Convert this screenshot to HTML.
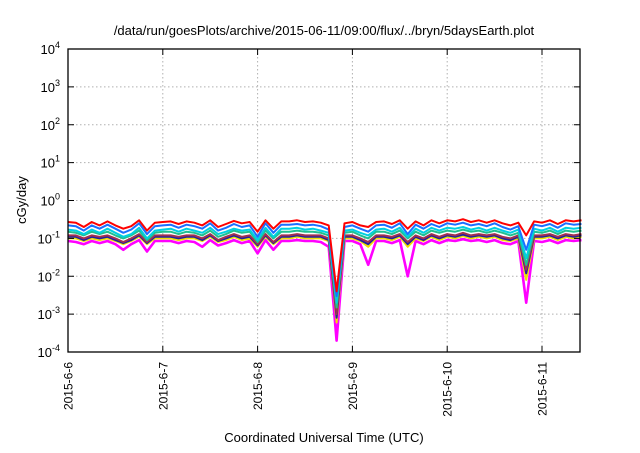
<!DOCTYPE html>
<html><head><meta charset="utf-8"><style>
body{margin:0;background:#fff;}
svg{font-family:"Liberation Sans",sans-serif;}
</style></head><body>
<svg id="chart" width="640" height="448" viewBox="0 0 640 448" xmlns="http://www.w3.org/2000/svg">
<rect width="640" height="448" fill="#fff"/>
<text x="324" y="35" text-anchor="middle" font-size="13">/data/run/goesPlots/archive/2015-06-11/09:00/flux/../bryn/5daysEarth.plot</text>
<text transform="translate(26,200) rotate(-90)" text-anchor="middle" font-size="13">cGy/day</text>
<text x="324" y="442" text-anchor="middle" font-size="13">Coordinated Universal Time (UTC)</text>
<g id="grid"></g><g id="series"></g><g id="axes"></g>
</svg>
<script>
const dayLabels=["2015-6-6","2015-6-7","2015-6-8","2015-6-9","2015-6-10","2015-6-11"];
const yExps=[-4,-3,-2,-1,0,1,2,3,4];
const stepHours=2;
const seriesColors=["#ff0000","#1a6fff","#00d0e0","#20c090","#a03050","#2020a0","#f0e000","#ff00ff"];
const sRed=[0.27,0.26,0.20,0.27,0.22,0.28,0.22,0.18,0.21,0.30,0.16,0.26,0.27,0.28,0.24,0.28,0.26,0.22,0.30,0.20,0.24,0.29,0.25,0.27,0.15,0.30,0.18,0.28,0.28,0.30,0.27,0.28,0.26,0.22,0.004,0.25,0.27,0.22,0.20,0.27,0.28,0.24,0.30,0.18,0.28,0.22,0.30,0.25,0.30,0.28,0.32,0.27,0.30,0.26,0.30,0.25,0.22,0.26,0.12,0.28,0.26,0.30,0.24,0.30,0.28,0.30];
const sBlue=[0.22,0.21,0.16,0.22,0.18,0.23,0.18,0.14,0.17,0.25,0.13,0.21,0.22,0.23,0.19,0.23,0.21,0.18,0.25,0.16,0.19,0.24,0.20,0.22,0.11,0.25,0.14,0.23,0.23,0.24,0.22,0.23,0.21,0.17,0.003,0.20,0.22,0.18,0.15,0.22,0.23,0.19,0.25,0.13,0.23,0.18,0.24,0.20,0.25,0.23,0.26,0.22,0.24,0.21,0.25,0.20,0.17,0.21,0.05,0.23,0.21,0.24,0.19,0.25,0.23,0.24];
const sCyan=[0.17,0.16,0.13,0.17,0.14,0.18,0.14,0.11,0.13,0.19,0.10,0.16,0.17,0.18,0.15,0.18,0.16,0.14,0.19,0.13,0.15,0.18,0.16,0.17,0.09,0.19,0.11,0.18,0.18,0.19,0.17,0.18,0.16,0.14,0.002,0.16,0.17,0.14,0.12,0.17,0.18,0.15,0.19,0.11,0.18,0.14,0.19,0.16,0.19,0.18,0.20,0.17,0.19,0.16,0.19,0.16,0.14,0.17,0.03,0.18,0.16,0.19,0.15,0.19,0.18,0.19];
const sTeal=[0.15,0.14,0.12,0.15,0.13,0.15,0.12,0.10,0.12,0.16,0.09,0.14,0.15,0.15,0.13,0.15,0.14,0.12,0.16,0.11,0.13,0.16,0.14,0.15,0.08,0.16,0.10,0.15,0.15,0.16,0.15,0.15,0.14,0.12,0.0015,0.14,0.15,0.12,0.10,0.15,0.15,0.13,0.16,0.10,0.15,0.12,0.16,0.14,0.16,0.15,0.17,0.15,0.16,0.14,0.16,0.14,0.12,0.14,0.02,0.15,0.14,0.16,0.13,0.16,0.15,0.16];
const sBrown=[0.12,0.12,0.10,0.12,0.11,0.12,0.10,0.08,0.10,0.13,0.08,0.12,0.12,0.12,0.11,0.12,0.12,0.10,0.13,0.09,0.11,0.13,0.11,0.12,0.07,0.13,0.08,0.12,0.12,0.13,0.12,0.12,0.12,0.10,0.001,0.12,0.12,0.10,0.08,0.12,0.12,0.11,0.13,0.08,0.12,0.10,0.13,0.11,0.13,0.12,0.14,0.12,0.13,0.12,0.13,0.11,0.10,0.12,0.015,0.12,0.12,0.13,0.11,0.13,0.12,0.13];
const sNavy=[0.11,0.11,0.09,0.11,0.10,0.11,0.09,0.075,0.09,0.12,0.075,0.11,0.11,0.11,0.10,0.11,0.11,0.09,0.12,0.085,0.10,0.12,0.10,0.11,0.065,0.12,0.075,0.11,0.11,0.12,0.11,0.11,0.11,0.09,0.0008,0.11,0.11,0.09,0.07,0.11,0.11,0.10,0.12,0.07,0.11,0.09,0.12,0.10,0.12,0.11,0.125,0.11,0.12,0.11,0.12,0.10,0.09,0.11,0.012,0.11,0.11,0.12,0.10,0.12,0.11,0.12];
const sYellow=[0.10,0.10,0.085,0.10,0.09,0.10,0.085,0.07,0.085,0.11,0.07,0.10,0.10,0.10,0.09,0.10,0.10,0.085,0.11,0.08,0.09,0.11,0.09,0.10,0.06,0.11,0.07,0.10,0.10,0.11,0.10,0.10,0.10,0.085,0.0006,0.10,0.10,0.085,0.06,0.10,0.10,0.09,0.11,0.06,0.10,0.085,0.11,0.09,0.11,0.10,0.115,0.10,0.11,0.10,0.11,0.09,0.085,0.10,0.008,0.10,0.10,0.11,0.09,0.11,0.10,0.11];
const sMagenta=[0.085,0.08,0.07,0.085,0.075,0.085,0.07,0.05,0.07,0.09,0.045,0.085,0.085,0.085,0.075,0.085,0.08,0.06,0.09,0.065,0.075,0.09,0.075,0.085,0.04,0.09,0.05,0.085,0.085,0.09,0.085,0.085,0.08,0.06,0.0002,0.085,0.085,0.07,0.02,0.085,0.085,0.075,0.09,0.01,0.085,0.07,0.09,0.075,0.09,0.085,0.095,0.085,0.09,0.08,0.09,0.075,0.07,0.085,0.002,0.085,0.08,0.09,0.075,0.09,0.085,0.09];
const allSeries=[sRed,sBlue,sCyan,sTeal,sBrown,sNavy,sYellow,sMagenta];
const seriesNames=["series-red","series-blue","series-cyan","series-teal","series-brown","series-navy","series-yellow","series-magenta"];

const L=68,R=580,T=49,B=352,dayPx=94.8;
const NS="http://www.w3.org/2000/svg";
function xDay(d){return L+d*dayPx;}
function yLog(v){return B-(Math.log10(v)+4)/8*(B-T);}
function mk(tag,attrs,parent){const e=document.createElementNS(NS,tag);for(const k in attrs)e.setAttribute(k,attrs[k]);parent.appendChild(e);return e;}
const grid=document.getElementById('grid'),axes=document.getElementById('axes'),ser=document.getElementById('series');
yExps.forEach(ex=>{
  const y=yLog(Math.pow(10,ex));
  if(ex>-4&&ex<4){const g=mk('line',{x1:L,x2:R,y1:y,y2:y,stroke:'#b0b0b0','stroke-dasharray':'1.5,2.5'},grid);
  
  }
  const t=mk('line',{x1:L,x2:L+6,y1:y,y2:y,stroke:'#000'},axes);
  
  
  mk('line',{x1:R,x2:R-6,y1:y,y2:y,stroke:'#000'},axes);
  const tx=mk('text',{x:L-8,y:y+5,'text-anchor':'end','font-size':'13'},axes);
  
  
  tx.textContent='10';
  const sp=mk('tspan',{dy:'-6','font-size':'9'},tx);sp.textContent=String(ex);
});
dayLabels.forEach((lab,i)=>{
  const x=xDay(i);
  if(i>0){const g=mk('line',{x1:x,x2:x,y1:T,y2:B,stroke:'#b0b0b0','stroke-dasharray':'1.5,2.5'},grid);
  
  }
  mk('line',{x1:x,x2:x,y1:B,y2:B-6,stroke:'#000'},axes);
  mk('line',{x1:x,x2:x,y1:T,y2:T+6,stroke:'#000'},axes);
  const tx=mk('text',{transform:`translate(${x+4.5},${B+10}) rotate(-90)`,'text-anchor':'end','font-size':'12'},axes);
  
  
  tx.textContent=lab;
});
const frame=mk('rect',{x:L,y:T,width:R-L,height:B-T,fill:'none',stroke:'#000','stroke-width':'1.3'},axes);


allSeries.slice().reverse().forEach((s,ri)=>{
  const idx=allSeries.length-1-ri;
  const pts=s.map((v,i)=>`${xDay(i*stepHours/24).toFixed(1)},${yLog(v).toFixed(1)}`).join(' ');
  const p=mk('polyline',{points:pts,fill:'none',stroke:seriesColors[idx],'stroke-width':idx===7?2.6:2.0,'stroke-linejoin':'round'},ser);
  
  
});
</script>
</body></html>
